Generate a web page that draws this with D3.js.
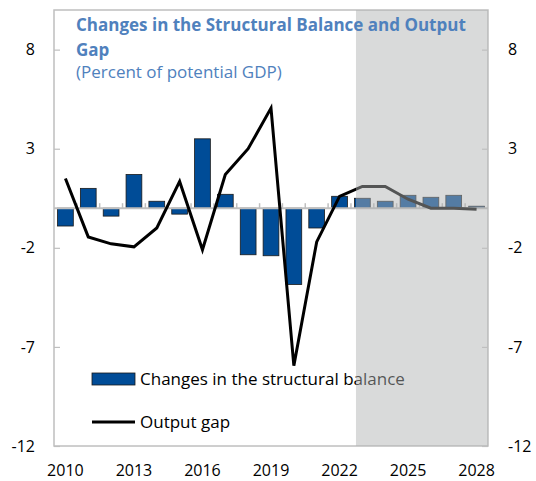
<!DOCTYPE html>
<html>
<head>
<meta charset="utf-8">
<script src="https://cdn.jsdelivr.net/npm/d3@7"></script>
<style>
  html, body { margin: 0; padding: 0; background: #fff; }
  svg { display: block; font-family: "Open Sans", "Noto Sans", sans-serif; }
</style>
</head>
<body>
<svg id="chart" width="536" height="481"></svg>
<script>
// ---- data ----
const years = [2010, 2011, 2012, 2013, 2014, 2015, 2016, 2017, 2018, 2019,
               2020, 2021, 2022, 2023, 2024, 2025, 2026, 2027, 2028];
const structuralBalance = [-0.9, 1.0, -0.4, 1.7, 0.35, -0.3, 3.5, 0.7, -2.35, -2.4,
                           -3.85, -1.0, 0.6, 0.5, 0.35, 0.65, 0.55, 0.65, 0.1];
const outputGap = [1.5, -1.45, -1.8, -1.95, -1.0, 1.35, -2.1, 1.7, 3.0, 5.05,
                   -7.95, -1.7, 0.6, 1.1, 1.1, 0.45, 0.0, 0.0, -0.05];
const yTicks = [-12, -7, -2, 3, 8];
const xTickLabels = [2010, 2013, 2016, 2019, 2022, 2025, 2028];
const projectionStart = 2023;
const titleLines = ["Changes in the Structural Balance and Output", "Gap"];
const subtitle = "(Percent of potential GDP)";
const legendLabels = ["Changes in the structural balance", "Output gap"];

// ---- layout ----
const svg = d3.select("#chart");
const L = 54, R = 488, T = 10, B = 446;
const x = d3.scaleBand().domain(years).range([L, R]).paddingInner(0.31).paddingOuter(0.155);
const y = d3.scaleLinear().domain([-12, 10]).range([B, T]);
const step = x.step();
const bandStart = d => L + years.indexOf(d) * step;
const cx = d => x(d) + x.bandwidth() / 2;

const gridGray = "#bfbfbf";
const barBlue = "#004c97";
const fontFam = "'Open Sans', 'Noto Sans', sans-serif";

// border
svg.append("rect").attr("x", L).attr("y", T).attr("width", R - L).attr("height", B - T)
  .attr("fill", "#fff").attr("stroke", gridGray).attr("stroke-width", 1.5);

// bars
svg.append("g").selectAll("rect").data(years).join("rect")
  .attr("x", d => x(d))
  .attr("width", x.bandwidth())
  .attr("y", (d, i) => y(Math.max(0, structuralBalance[i])))
  .attr("height", (d, i) => Math.abs(y(structuralBalance[i]) - y(0)))
  .attr("fill", barBlue).attr("stroke", "#1a1a1a").attr("stroke-width", 0.8);

// zero line with category ticks
svg.append("line").attr("x1", L).attr("x2", R).attr("y1", y(0)).attr("y2", y(0))
  .attr("stroke", gridGray).attr("stroke-width", 2);
svg.append("g").selectAll("line").data(years.slice(1)).join("line")
  .attr("x1", d => bandStart(d)).attr("x2", d => bandStart(d))
  .attr("y1", y(0)).attr("y2", y(0) - 5)
  .attr("stroke", gridGray).attr("stroke-width", 1.5);

// output gap line
const line = d3.line().x((d, i) => cx(years[i])).y(d => y(d));
svg.append("path").datum(outputGap).attr("d", line)
  .attr("fill", "none").attr("stroke", "#000").attr("stroke-width", 3)
  .attr("stroke-linejoin", "miter");

// legend
const lg = svg.append("g");
lg.append("rect").attr("x", 92).attr("y", 373).attr("width", 43).attr("height", 12)
  .attr("fill", barBlue).attr("stroke", "#1a1a1a").attr("stroke-width", 0.8);
lg.append("text").attr("x", 140).attr("y", 379).attr("dy", "0.35em")
  .attr("font-size", 17).attr("fill", "#000").text(legendLabels[0]);
lg.append("line").attr("x1", 92).attr("x2", 135).attr("y1", 422).attr("y2", 422)
  .attr("stroke", "#000").attr("stroke-width", 3);
lg.append("text").attr("x", 140).attr("y", 422).attr("dy", "0.35em")
  .attr("font-size", 17).attr("fill", "#000").text(legendLabels[1]);

// projection shading (translucent overlay)
const shadeX = bandStart(projectionStart) + step * 0.22;
svg.append("rect").attr("x", shadeX).attr("y", T).attr("width", R - shadeX).attr("height", B - T)
  .attr("fill", "rgb(176,178,178)").attr("fill-opacity", 0.48);

// axes
const fmt = d => String(d);
const leftAxis = d3.axisLeft(y).tickValues(yTicks).tickSize(-6).tickPadding(19).tickFormat(fmt);
const rightAxis = d3.axisRight(y).tickValues(yTicks).tickSize(-6).tickPadding(20).tickFormat(fmt);
const bottomAxis = d3.axisBottom(x).tickValues(xTickLabels).tickSize(0).tickPadding(19);

function styleAxis(g) {
  g.select(".domain").remove();
  g.selectAll(".tick line").attr("stroke", gridGray).attr("stroke-width", 1.2);
  g.selectAll(".tick text").attr("font-size", 16).attr("fill", "#000")
    .attr("font-family", fontFam);
}
svg.append("g").attr("transform", `translate(${L},0)`).call(leftAxis).call(styleAxis);
svg.append("g").attr("transform", `translate(${R},0)`).call(rightAxis).call(styleAxis);
svg.append("g").attr("transform", `translate(0,${B})`).call(bottomAxis).call(styleAxis);

// title
const titleBlue = "#4f81bd";
svg.append("text").attr("x", 76).attr("y", 31).attr("font-size", 17).attr("font-weight", "bold")
  .attr("fill", titleBlue).text(titleLines[0]);
svg.append("text").attr("x", 76).attr("y", 55.5).attr("font-size", 17).attr("font-weight", "bold")
  .attr("fill", titleBlue).text(titleLines[1]);
svg.append("text").attr("x", 76).attr("y", 78).attr("font-size", 17)
  .attr("fill", titleBlue).text(subtitle);
</script>
</body>
</html>
